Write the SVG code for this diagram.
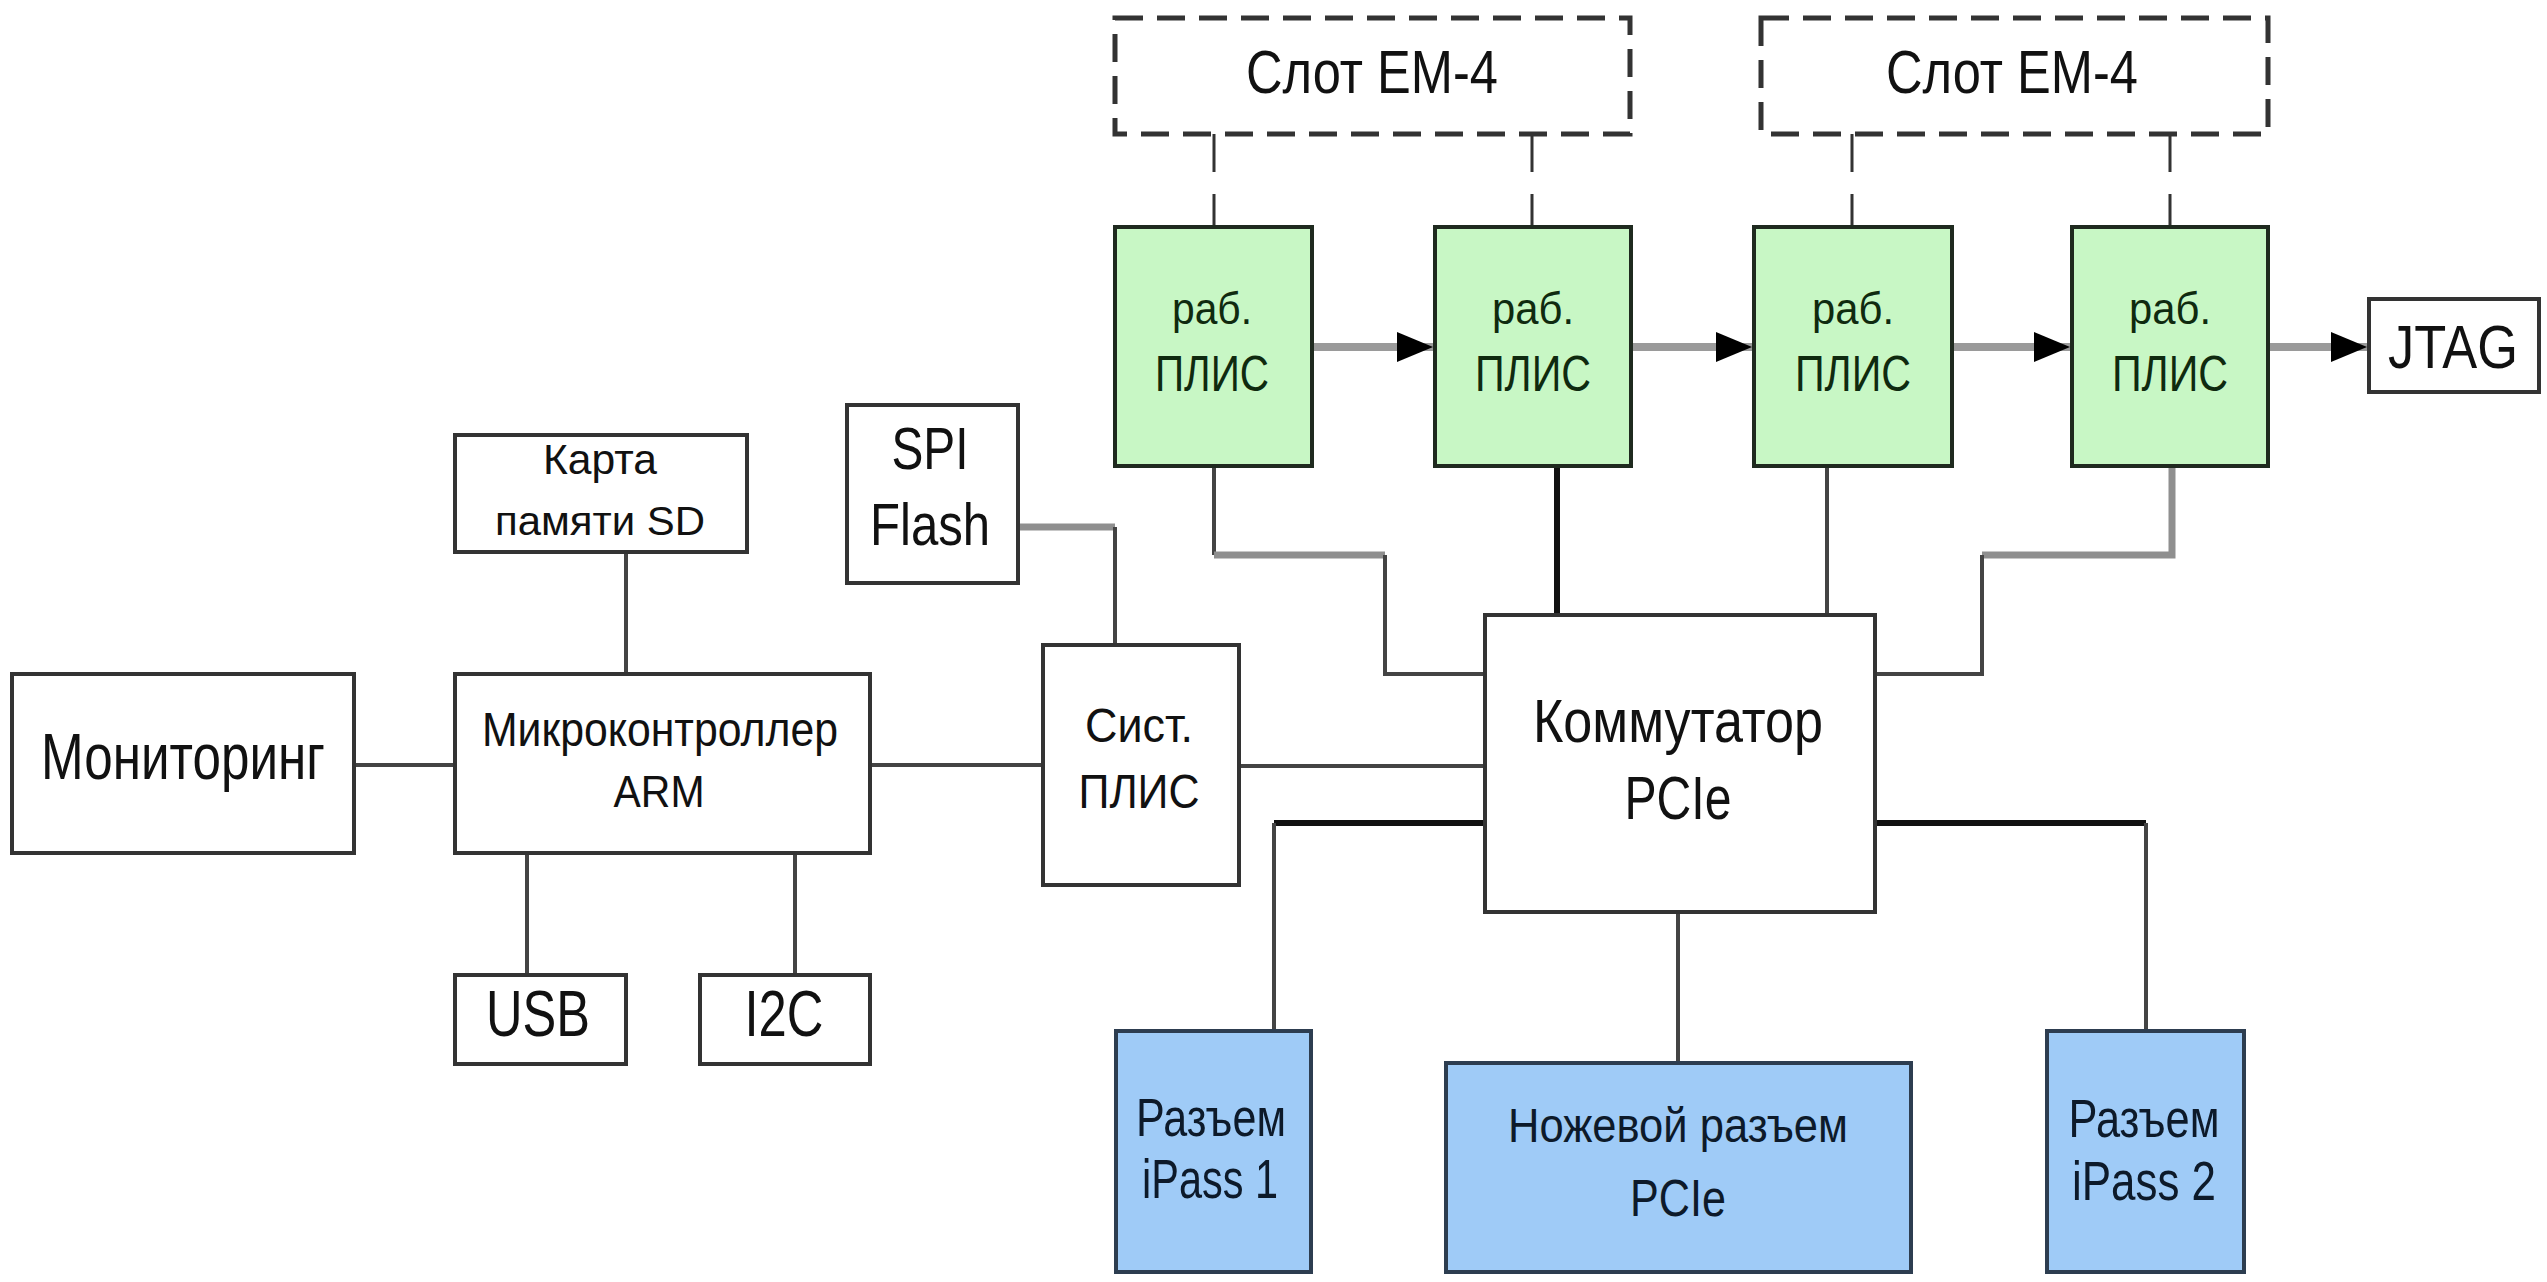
<svg xmlns="http://www.w3.org/2000/svg" width="2547" height="1282" viewBox="0 0 2547 1282">
<style>
text{font-family:"Liberation Sans",Arial,sans-serif;fill:#111;text-anchor:middle}
.box{fill:#fff;stroke:#333;stroke-width:4}
.green{fill:#c8f7c5;stroke:#1f2a1f;stroke-width:4}
.blue{fill:#9fcbf7;stroke:#2d3d50;stroke-width:4}
.slot{fill:#fff;stroke:#333;stroke-width:5;stroke-dasharray:28 14}
.c{fill:none;stroke:#444;stroke-width:4}
.cg{fill:none;stroke:#8f8f8f;stroke-width:7}
.cb{fill:none;stroke:#111;stroke-width:6}
.cd{fill:none;stroke:#333;stroke-width:3;stroke-dasharray:38 22}
.arr{fill:none;stroke:#9a9a9a;stroke-width:8;marker-end:url(#ah)}
.gt{fill:#0f2a0f}
.bt{fill:#0d1a2a}
</style>
<defs>
<marker id="ah" markerUnits="userSpaceOnUse" markerWidth="40" markerHeight="34" refX="38" refY="17" orient="auto">
<path d="M2,2 L38,17 L2,32 Z" fill="#000"/>
</marker>
</defs>
<rect width="2547" height="1282" fill="#fff"/>
<g id="connectors">
<path class="cd" d="M1214,134 V227"/>
<path class="cd" d="M1532,134 V227"/>
<path class="cd" d="M1852,134 V227"/>
<path class="cd" d="M2170,134 V227"/>
<path class="arr" d="M1312,347 H1433"/>
<path class="arr" d="M1631,347 H1752"/>
<path class="arr" d="M1952,347 H2070"/>
<path class="arr" d="M2268,347 H2367"/>
<path class="c" d="M1214,466 V555"/>
<path class="cg" d="M1214,555 H1385"/>
<path class="c" d="M1385,555 V674 H1485"/>
<path class="cb" d="M1557,466 V615"/>
<path class="c" d="M1827,466 V615"/>
<path class="cg" d="M2172,466 V555 H1982"/>
<path class="c" d="M1982,555 V674 H1875"/>
<path class="cg" d="M1018,527 H1115"/>
<path class="c" d="M1115,527 V645"/>
<path class="c" d="M354,765 H455"/>
<path class="c" d="M870,765 H1043"/>
<path class="c" d="M1239,766 H1485"/>
<path class="c" d="M626,552 V674"/>
<path class="c" d="M527,853 V975"/>
<path class="c" d="M795,853 V975"/>
<path class="cb" d="M1485,823 H1274"/>
<path class="c" d="M1274,823 V1031"/>
<path class="cb" d="M1875,823 H2146"/>
<path class="c" d="M2146,823 V1031"/>
<path class="c" d="M1678,912 V1063"/>
</g>
<g id="slot1"><rect class="slot" x="1115" y="18" width="515" height="116"/><text x="1372" y="93" font-size="62" textLength="252" lengthAdjust="spacingAndGlyphs">Слот ЕМ-4</text></g>
<g id="slot2"><rect class="slot" x="1761" y="18" width="507" height="116"/><text x="2012" y="93" font-size="62" textLength="252" lengthAdjust="spacingAndGlyphs">Слот ЕМ-4</text></g>
<g id="fpga1"><rect class="green" x="1115" y="227" width="197" height="239"/><text class="gt" x="1212" y="324" font-size="44" textLength="80" lengthAdjust="spacingAndGlyphs">раб.</text><text class="gt" x="1212" y="391" font-size="50" textLength="114" lengthAdjust="spacingAndGlyphs">ПЛИС</text></g>
<g id="fpga2"><rect class="green" x="1435" y="227" width="196" height="239"/><text class="gt" x="1533" y="324" font-size="44" textLength="82" lengthAdjust="spacingAndGlyphs">раб.</text><text class="gt" x="1533" y="391" font-size="50" textLength="116" lengthAdjust="spacingAndGlyphs">ПЛИС</text></g>
<g id="fpga3"><rect class="green" x="1754" y="227" width="198" height="239"/><text class="gt" x="1853" y="324" font-size="44" textLength="82" lengthAdjust="spacingAndGlyphs">раб.</text><text class="gt" x="1853" y="391" font-size="50" textLength="116" lengthAdjust="spacingAndGlyphs">ПЛИС</text></g>
<g id="fpga4"><rect class="green" x="2072" y="227" width="196" height="239"/><text class="gt" x="2170" y="324" font-size="44" textLength="82" lengthAdjust="spacingAndGlyphs">раб.</text><text class="gt" x="2170" y="391" font-size="50" textLength="116" lengthAdjust="spacingAndGlyphs">ПЛИС</text></g>
<g id="jtag"><rect class="box" x="2369" y="299" width="170" height="93"/><text x="2453" y="368" font-size="62" textLength="130" lengthAdjust="spacingAndGlyphs">JTAG</text></g>
<g id="sdcard"><rect class="box" x="455" y="435" width="292" height="117"/><text x="600" y="474" font-size="42" textLength="114" lengthAdjust="spacingAndGlyphs">Карта</text><text x="600" y="535" font-size="40" textLength="210" lengthAdjust="spacingAndGlyphs">памяти SD</text></g>
<g id="spiflash"><rect class="box" x="847" y="405" width="171" height="178"/><text x="930" y="469" font-size="60" textLength="77" lengthAdjust="spacingAndGlyphs">SPI</text><text x="930" y="545" font-size="60" textLength="120" lengthAdjust="spacingAndGlyphs">Flash</text></g>
<g id="monitoring"><rect class="box" x="12" y="674" width="342" height="179"/><text x="183" y="779" font-size="64" textLength="284" lengthAdjust="spacingAndGlyphs">Мониторинг</text></g>
<g id="arm"><rect class="box" x="455" y="674" width="415" height="179"/><text x="660" y="746" font-size="48" textLength="356" lengthAdjust="spacingAndGlyphs">Микроконтроллер</text><text x="659" y="807" font-size="44" textLength="91" lengthAdjust="spacingAndGlyphs">ARM</text></g>
<g id="usb"><rect class="box" x="455" y="975" width="171" height="89"/><text x="538" y="1036" font-size="64" textLength="104" lengthAdjust="spacingAndGlyphs">USB</text></g>
<g id="i2c"><rect class="box" x="700" y="975" width="170" height="89"/><text x="784" y="1036" font-size="64" textLength="79" lengthAdjust="spacingAndGlyphs">I2C</text></g>
<g id="sysfpga"><rect class="box" x="1043" y="645" width="196" height="240"/><text x="1139" y="742" font-size="48" textLength="108" lengthAdjust="spacingAndGlyphs">Сист.</text><text x="1139" y="808" font-size="48" textLength="121" lengthAdjust="spacingAndGlyphs">ПЛИС</text></g>
<g id="switch"><rect class="box" x="1485" y="615" width="390" height="297"/><text x="1678" y="742" font-size="62" textLength="290" lengthAdjust="spacingAndGlyphs">Коммутатор</text><text x="1678" y="819" font-size="62" textLength="107" lengthAdjust="spacingAndGlyphs">PCIe</text></g>
<g id="ipass1"><rect class="blue" x="1116" y="1031" width="195" height="241"/><text class="bt" x="1211" y="1136" font-size="54" textLength="150" lengthAdjust="spacingAndGlyphs">Разъем</text><text class="bt" x="1210" y="1198" font-size="56" textLength="136" lengthAdjust="spacingAndGlyphs">iPass 1</text></g>
<g id="edge"><rect class="blue" x="1446" y="1063" width="465" height="209"/><text class="bt" x="1678" y="1142" font-size="48" textLength="340" lengthAdjust="spacingAndGlyphs">Ножевой разъем</text><text class="bt" x="1678" y="1216" font-size="52" textLength="96" lengthAdjust="spacingAndGlyphs">PCIe</text></g>
<g id="ipass2"><rect class="blue" x="2047" y="1031" width="197" height="241"/><text class="bt" x="2144" y="1137" font-size="54" textLength="151" lengthAdjust="spacingAndGlyphs">Разъем</text><text class="bt" x="2144" y="1200" font-size="56" textLength="144" lengthAdjust="spacingAndGlyphs">iPass 2</text></g>
</svg>
